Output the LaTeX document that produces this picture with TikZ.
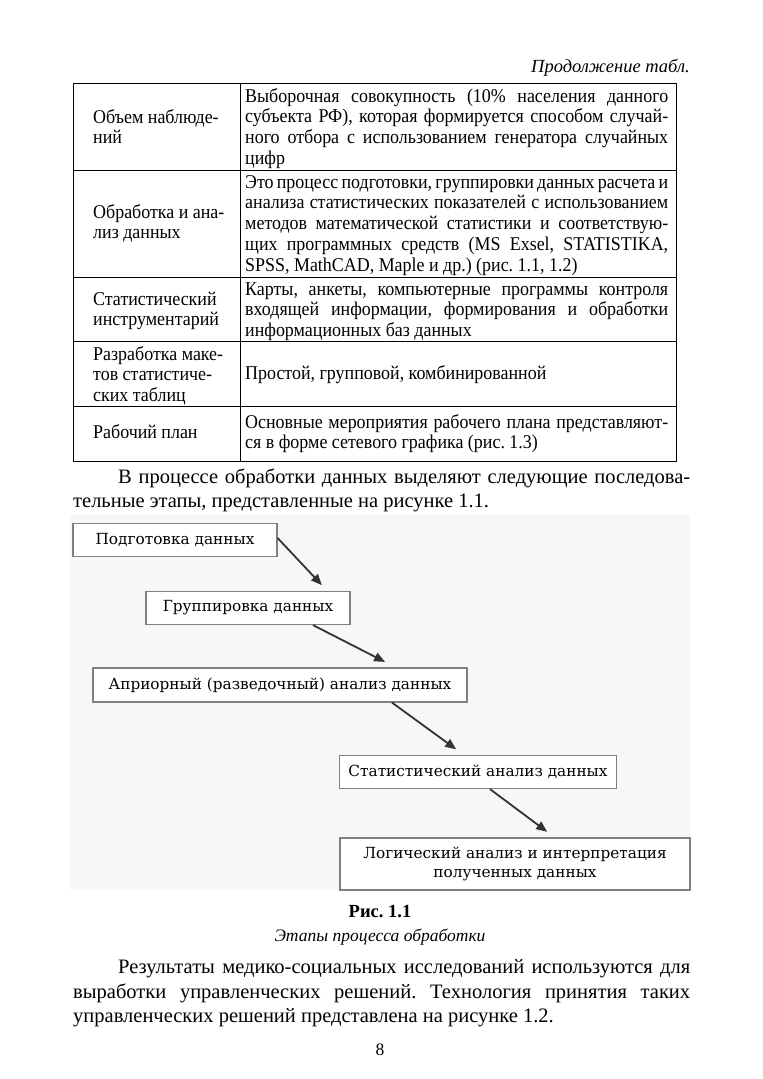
\documentclass[tikz,border=0pt]{standalone}
\usepackage{fontspec}
\setmainfont{Liberation Serif}
\newfontfamily\tabfont[FakeStretch=0.92]{Liberation Serif}
\newfontfamily\diagfont{DejaVu Serif}
\usetikzlibrary{arrows.meta,calc,positioning}
\newcommand{\jline}[2]{\makebox[#1][s]{#2}}
\frenchspacing

\begin{document}
\begin{tikzpicture}[x=1pt,y=-1pt,
  txt/.style={anchor=base west,inner sep=0pt,align=left,font=\tabfont\fontsize{19.5}{20.8}\selectfont},
  body/.style={anchor=base west,inner sep=0pt,align=left,font=\fontsize{20.5}{24.5}\selectfont},
  stage/.style={draw=black!50,line width=1.2pt,fill=white,inner sep=0pt,align=center,font=\diagfont\fontsize{15.3}{19}\selectfont},
  flow/.style={-{Triangle[length=11pt,width=9pt]},line width=1.8pt,draw=black!80,shorten >=1pt}]

\useasboundingbox (0,0) rectangle (763,1079);
\fill[white] (0,0) rectangle (763,1079);

% header
\node[anchor=base east,inner sep=0pt,font=\fontsize{18.5}{20}\selectfont\itshape] (cont) at (690,72) {Продолжение табл.};

% table (text nodes sit on the baseline of their last line)
\draw[line width=0.9pt] (73,83) rectangle (676,461);
\draw[line width=0.9pt] (240,83) -- (240,461);
\foreach \y in {170,277,341,406} \draw[line width=0.9pt] (73,\y) -- (676,\y);

\node[txt] (r1a) at (93,143.8) {Объем наблюде-\\ний};
\node[txt] (r1b) at (245,164.4) {\jline{423pt}{Выборочная совокупность (10\% населения данного}\\\jline{423pt}{субъекта РФ), которая формируется способом случай-}\\\jline{423pt}{ного отбора с использованием генератора случайных}\\цифр};

\node[txt] (r2a) at (93,238.8) {Обработка и ана-\\лиз данных};
\node[txt] (r2b) at (245,271.2) {\jline{423pt}{Это процесс подготовки, группировки данных расчета и}\\\jline{423pt}{анализа статистических показателей с использованием}\\\jline{423pt}{методов математической статистики и соответствую-}\\\jline{423pt}{щих программных средств (MS Exsel, STATISTIKA,}\\SPSS, MathCAD, Maple и др.) (рис. 1.1, 1.2)};

\node[txt] (r3a) at (93,325.8) {Статистический\\инструментарий};
\node[txt] (r3b) at (245,336.6) {\jline{423pt}{Карты, анкеты, компьютерные программы контроля}\\\jline{423pt}{входящей информации, формирования и обработки}\\информационных баз данных};

\node[txt] (r4a) at (93,401.6) {Разработка маке-\\тов статистиче-\\ских таблиц};
\node[txt] (r4b) at (245,379) {Простой, групповой, комбинированной};

\node[txt] (r5a) at (93,438) {Рабочий план};
\node[txt] (r5b) at (245,448.8) {\jline{423pt}{Основные мероприятия рабочего плана представляют-}\\ся в форме сетевого графика (рис. 1.3)};

% paragraph above the figure
\node[body] (p1) at (118,483) {\jline{572pt}{В процессе обработки данных выделяют следующие последова-}};
\node[body] (p2) at (73,507) {тельные этапы, представленные на рисунке 1.1.};

% figure
\fill[black!3] (70,515) rectangle (690,890);

\node[stage,minimum width=204pt,minimum height=33pt] (prep) at (175,540) {Подготовка данных};
\node[stage,minimum width=204pt,minimum height=33pt] (group) at (248,608) {Группировка данных};
\node[stage,minimum width=374pt,minimum height=34pt] (apriori) at (280,685) {Априорный (разведочный) анализ данных};
\node[stage,minimum width=277pt,minimum height=33pt] (stat) at (478,772) {Статистический анализ данных};
\node[stage,minimum width=350pt,minimum height=52pt] (logic) at (515,864) {Логический анализ и интерпретация\\полученных данных};

\draw[flow] ($(prep.east)+(0,-2)$) -- ($(group.north east)+(-28,-5)$);
\draw[flow] ($(group.south)+(65,0)$) -- ($(apriori.north)+(106,-5)$);
\draw[flow] ($(apriori.south)+(112,0)$) -- ($(stat.north)+(-21,-5)$);
\draw[flow] ($(stat.south)+(12,0)$) -- ($(logic.north)+(33,-5)$);

% caption
\node[anchor=base,inner sep=0pt,font=\fontsize{18.5}{20}\selectfont\bfseries] (fig) at (380,917) {Рис. 1.1};
\node[anchor=base,inner sep=0pt,font=\fontsize{17.5}{20}\selectfont\itshape] (figname) at (380,941) {Этапы процесса обработки};

% paragraph below the figure
\node[body] (q1) at (118,973) {\jline{572pt}{Результаты медико-социальных исследований используются для}};
\node[body] (q2) at (73,998) {\jline{617pt}{выработки управленческих решений. Технология принятия таких}};
\node[body] (q3) at (73,1022) {управленческих решений представлена на рисунке 1.2.};

% page number
\node[anchor=base,inner sep=0pt,font=\fontsize{17.5}{20}\selectfont] (page) at (380,1055) {8};
\end{tikzpicture}
\end{document}
